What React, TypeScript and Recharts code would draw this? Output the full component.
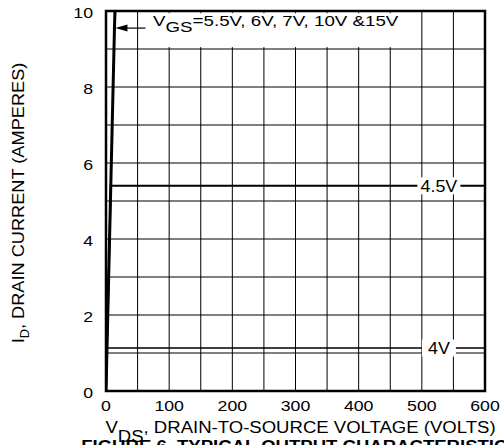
import { CartesianGrid, Label, Line, LineChart, ReferenceArea, XAxis, YAxis } from "recharts";

// axis ticks (grid every 50 V / 1 A, labels every 100 V / 2 A)
const vdsTicks = [0, 50, 100, 150, 200, 250, 300, 350, 400, 450, 500, 550, 600];
const vdsLabels = [0, 100, 200, 300, 400, 500, 600];
const idTicks = [0, 1, 2, 3, 4, 5, 6, 7, 8, 9, 10];
const idLabels = [0, 2, 4, 6, 8, 10];

// VGS = 5.5V ... 15V (all on the steep line)
const steepVds = [0, 13.4, 14.2];
const steepId = [0, 9.55, 10];
// VGS = 4.5V
const vgs45Vds = [0, 7.6, 527, 600];
const vgs45Id = [0, 5.4, 5.4, 5.4];
// VGS = 4V
const vgs4Vds = [0, 1.6, 527, 600];
const vgs4Id = [0, 1.13, 1.13, 1.13];

const zip = (xs: number[], ys: number[]) => xs.map((v, k) => ({ v, i: ys[k] }));

const FONT = "'Liberation Sans', Arial, Helvetica, sans-serif";

const XTick = ({ x, y, payload }: any) =>
  vdsLabels.includes(payload.value) ? (
    <g transform={`translate(${x},${y})`}>
      <text transform="scale(1.18,1)" textAnchor="middle" dy="0.71em" fontSize={15} fill="#000">
        {payload.value}
      </text>
    </g>
  ) : (
    <g />
  );

const YTick = ({ x, y, payload }: any) =>
  idLabels.includes(payload.value) ? (
    <g transform={`translate(${x},${y})`}>
      <text transform="scale(1.18,1)" textAnchor="end" dy="0.45em" fontSize={15} fill="#000">
        {payload.value}
      </text>
    </g>
  ) : (
    <g />
  );

const steepLabel = (props: any) => {
  if (props.index !== 1) return null;
  const { x, y } = props;
  return (
    <g>
      <rect x={x + 33.5} y={y - 15} width={254} height={34} fill="#fff" />
      <line x1={x + 4} y1={y} x2={x + 31} y2={y} stroke="#000" strokeWidth={1.2} />
      <path d={`M${x + 1},${y} L${x + 13},${y - 3.5} L${x + 13},${y + 3.5} Z`} fill="#000" />
      <text transform={`translate(${x + 38.5},${y - 2}) scale(1.25,1)`} fontSize={15} fill="#000">
        <tspan>V</tspan>
        <tspan dy={6}>GS</tspan>
        <tspan dy={-6}>=5.5V, 6V, 7V, 10V &amp;15V</tspan>
      </text>
    </g>
  );
};

const curveLabel = (text: string, idx: number, w: number) => (props: any) => {
  if (props.index !== idx) return null;
  const { x, y } = props;
  return (
    <g>
      <rect x={x - w / 2} y={y - 8.5} width={w} height={17} fill="#fff" />
      <text transform={`translate(${x},${y}) scale(1.05,1)`} textAnchor="middle" dy="0.36em" fontSize={17} fill="#000">
        {text}
      </text>
    </g>
  );
};

const xTitle = ({ viewBox }: any) => {
  const cx = viewBox.x + viewBox.width / 2 + 5;
  return (
    <g>
      <text transform={`translate(${cx},${viewBox.y + 42}) scale(1.16,1)`} textAnchor="middle" fontSize={16} fill="#000">
        <tspan>V</tspan>
        <tspan dy={9}>DS</tspan>
        <tspan dy={-9}>, DRAIN-TO-SOURCE VOLTAGE (VOLTS)</tspan>
      </text>
      <text transform={`translate(${cx},${viewBox.y + 61}) scale(1.16,1)`} textAnchor="middle" fontSize={16} fontWeight="bold" fill="#000">
        FIGURE 6. TYPICAL OUTPUT CHARACTERISTICS
      </text>
    </g>
  );
};

const yTitle = ({ viewBox }: any) => {
  const cy = viewBox.y + viewBox.height / 2 + 2;
  return (
    <text transform={`translate(23.5,${cy}) rotate(-90) scale(1.07,1)`} textAnchor="middle" fontSize={17} fill="#000">
      <tspan>I</tspan>
      <tspan dy={5} fontSize={12}>D</tspan>
      <tspan dy={-5}>, DRAIN CURRENT (AMPERES)</tspan>
    </text>
  );
};

export default function App() {
  return (
    <div style={{ position: "absolute", left: 0, top: 0, background: "#fff", fontFamily: FONT }}>
      <LineChart width={504} height={445} margin={{ top: 11, right: 19, left: 0, bottom: 0 }} style={{ fontFamily: FONT }}>
        <CartesianGrid stroke="#000" strokeWidth={1} />
        <XAxis
          type="number"
          dataKey="v"
          domain={[0, 600]}
          ticks={vdsTicks}
          allowDataOverflow
          height={54}
          axisLine={false}
          tickLine={false}
          tickMargin={3}
          tick={<XTick />}
          interval={0}
        >
          <Label content={xTitle} />
        </XAxis>
        <YAxis
          type="number"
          dataKey="i"
          domain={[0, 10]}
          ticks={idTicks}
          allowDataOverflow
          width={106}
          axisLine={false}
          tickLine={false}
          tickMargin={7}
          tick={<YTick />}
          interval={0}
        >
          <Label content={yTitle} />
        </YAxis>
        <ReferenceArea x1={0} x2={600} y1={0} y2={10} fill="none" fillOpacity={0} stroke="#000" strokeWidth={2.5} />
        <Line
          data={zip(vgs4Vds, vgs4Id)}
          dataKey="i"
          stroke="#000"
          strokeWidth={1.6}
          dot={false}
          type="linear"
          isAnimationActive={false}
          label={curveLabel("4V", 2, 34)}
        />
        <Line
          data={zip(vgs45Vds, vgs45Id)}
          dataKey="i"
          stroke="#000"
          strokeWidth={2}
          dot={false}
          type="linear"
          isAnimationActive={false}
          label={curveLabel("4.5V", 2, 43)}
        />
        <Line
          data={zip(steepVds, steepId)}
          dataKey="i"
          stroke="#000"
          strokeWidth={3}
          dot={false}
          type="linear"
          isAnimationActive={false}
          label={steepLabel}
        />
      </LineChart>
    </div>
  );
}
